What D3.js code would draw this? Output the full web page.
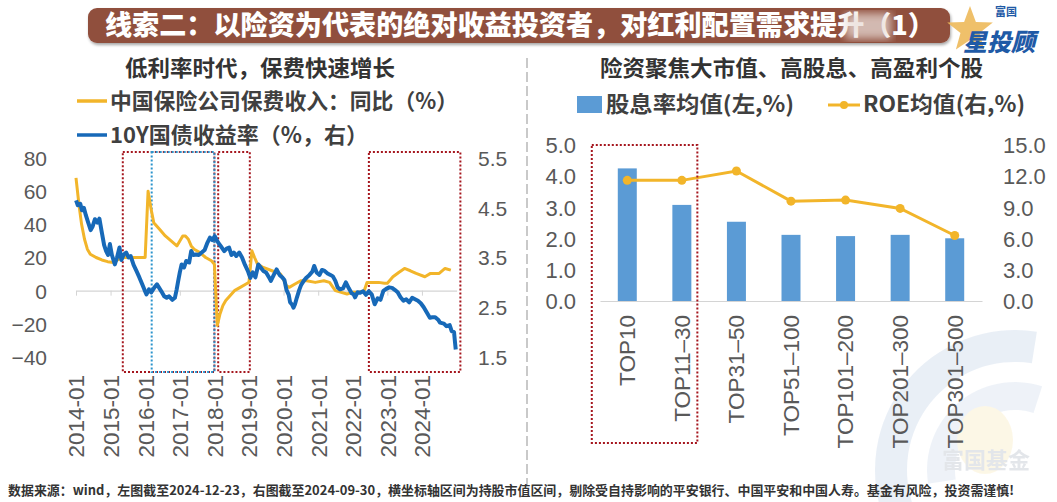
<!DOCTYPE html>
<html><head><meta charset="utf-8">
<script src="https://cdn.jsdelivr.net/npm/d3@7"></script>
<style>
body{margin:0;background:#fff;}
svg{display:block;}
</style></head><body>
<svg id="c" width="1057" height="502"></svg>
<script>
// ---------- Left chart data ----------
const premiumDates = ["2014-01","2014-02","2014-03","2014-04","2014-05","2014-06","2014-08","2014-10","2014-12","2015-02","2015-03","2015-05","2015-08","2015-12","2016-01","2016-02","2016-03","2016-04","2016-06","2016-08","2016-10","2016-12","2017-02","2017-03","2017-04","2017-05","2017-06","2017-08","2017-10","2017-12","2018-01","2018-02","2018-03","2018-04","2018-05","2018-06","2018-08","2018-10","2018-12","2019-01","2019-02","2019-03","2019-04","2019-06","2019-09","2019-12","2020-02","2020-03","2020-05","2020-07","2020-09","2020-12","2021-03","2021-05","2021-07","2021-09","2021-11","2022-01","2022-03","2022-05","2022-06","2022-08","2022-10","2022-12","2023-01","2023-03","2023-05","2023-07","2023-09","2023-11","2024-02","2024-04","2024-07","2024-09","2024-11"];
const premiumYoY = [68,52,40,31,25,22,20,18.5,17.5,17,18,20,20,20,20,60,50,41,37,33,30,27,33,33,31,27,25,23,20,18,16,-21,-14,-9,-6,-4,0,2,4,5,24,20,16,14,12,10,3,2,4,6,6,5,6,5,0,-1,-2,-1,-1,0,5,5,5,4.5,4.5,8.4,11,13.4,12,10.4,8.4,10.4,10.4,13.4,12.4];

const bondDates = ["2014-01-02","2014-01-20","2014-02-15","2014-03-05","2014-03-25","2014-04-15","2014-05-10","2014-06-05","2014-06-25","2014-07-20","2014-08-15","2014-09-05","2014-10-01","2014-10-25","2014-11-15","2014-12-05","2014-12-25","2015-01-15","2015-02-15","2015-03-10","2015-04-05","2015-04-25","2015-05-20","2015-06-15","2015-07-10","2015-08-01","2015-09-01","2015-10-01","2015-11-01","2015-12-01","2015-12-25","2016-01-15","2016-02-10","2016-03-05","2016-04-05","2016-05-05","2016-05-25","2016-06-20","2016-07-20","2016-08-15","2016-09-10","2016-10-15","2016-11-10","2016-11-28","2016-12-15","2017-01-01","2017-01-20","2017-02-15","2017-03-10","2017-04-10","2017-05-01","2017-05-25","2017-06-20","2017-07-20","2017-08-20","2017-09-20","2017-10-20","2017-11-15","2017-12-10","2018-01-05","2018-01-25","2018-02-20","2018-03-20","2018-04-15","2018-05-10","2018-06-05","2018-07-01","2018-07-25","2018-08-20","2018-09-20","2018-10-20","2018-11-20","2018-12-20","2019-01-15","2019-02-10","2019-03-10","2019-04-10","2019-05-05","2019-06-01","2019-07-01","2019-08-01","2019-08-20","2019-09-20","2019-10-20","2019-11-20","2019-12-20","2020-01-10","2020-02-01","2020-02-25","2020-03-10","2020-04-01","2020-04-15","2020-05-01","2020-05-20","2020-06-15","2020-07-05","2020-08-01","2020-09-01","2020-10-01","2020-11-01","2020-11-20","2020-12-15","2021-01-15","2021-02-10","2021-03-10","2021-04-10","2021-05-10","2021-06-05","2021-07-01","2021-07-25","2021-08-20","2021-09-20","2021-10-20","2021-11-20","2021-12-20","2022-01-10","2022-01-25","2022-02-20","2022-03-20","2022-04-20","2022-05-20","2022-06-20","2022-07-20","2022-08-20","2022-09-20","2022-10-20","2022-11-20","2022-12-20","2023-01-20","2023-02-20","2023-03-20","2023-04-20","2023-05-20","2023-06-20","2023-07-20","2023-08-20","2023-09-20","2023-10-20","2023-11-20","2023-12-20","2024-01-20","2024-02-20","2024-03-25","2024-04-20","2024-05-20","2024-06-20","2024-07-10","2024-08-20","2024-09-15","2024-10-20","2024-11-10","2024-12-05","2024-12-15","2024-12-23"];
const bondYield = [4.65,4.55,4.58,4.45,4.50,4.35,4.20,4.05,4.12,4.27,4.20,4.28,4.00,3.75,3.63,3.55,3.77,3.55,3.36,3.50,3.70,3.45,3.56,3.60,3.50,3.53,3.35,3.23,3.10,2.96,2.85,2.76,2.86,2.80,2.89,2.96,2.90,2.82,2.72,2.69,2.72,2.65,2.69,2.85,3.03,3.20,3.36,3.30,3.43,3.40,3.63,3.55,3.56,3.55,3.60,3.65,3.80,3.90,3.85,3.93,3.85,3.77,3.70,3.63,3.68,3.70,3.55,3.60,3.53,3.60,3.50,3.35,3.23,3.09,3.20,3.10,3.36,3.30,3.23,3.20,3.10,3.03,3.15,3.26,3.15,3.10,3.05,2.85,2.75,2.60,2.55,2.49,2.56,2.69,2.85,2.95,3.03,3.10,3.15,3.22,3.33,3.20,3.15,3.25,3.23,3.18,3.15,3.12,3.03,2.90,2.86,2.88,3.00,2.88,2.78,2.76,2.70,2.80,2.79,2.82,2.75,2.82,2.76,2.56,2.68,2.65,2.83,2.87,2.90,2.89,2.85,2.80,2.70,2.63,2.66,2.60,2.69,2.66,2.63,2.58,2.50,2.40,2.29,2.30,2.30,2.25,2.19,2.17,2.12,2.14,2.02,2.00,1.80,1.65];

const yearTicks = ["2014-01","2015-01","2016-01","2017-01","2018-01","2019-01","2020-01","2021-01","2022-01","2023-01","2024-01"];
const leftTicks = [-40,-20,0,20,40,60,80];
const rightTicks = [1.5,2.5,3.5,4.5,5.5];

// ---------- Right chart data ----------
const categories = ["TOP10","TOP11–30","TOP31–50","TOP51–100","TOP101–200","TOP201–300","TOP301–500"];
const dividendYield = [4.25,3.08,2.54,2.12,2.08,2.12,2.01];
const roe = [11.6,11.6,12.5,9.6,9.7,8.9,6.3];
const barLeftTicks = [0,1,2,3,4,5];
const barRightTicks = [0,3,6,9,12,15];

// ---------- Drawing ----------
const svg = d3.select("#c");
const CJK = "'Noto Sans CJK SC', 'Noto Sans', sans-serif";
const NUM = "'Liberation Sans', Arial, sans-serif";
const GRAY = "#595959";
const YEL = "#F2B52A";
const BLUE = "#1769B8";
const BAR = "#5B9BD5";
const RED = "#A5161E";

// watermark
const wm = svg.append("g").attr("opacity", 0.5);
const arc = d3.arc();
wm.append("path").attr("transform","translate(1015,470)")
  .attr("d", arc({innerRadius:108, outerRadius:140, startAngle:-Math.PI*0.62, endAngle:Math.PI*0.05}))
  .attr("fill","#d5e0ee");
wm.append("path").attr("transform","translate(1015,470)")
  .attr("d", arc({innerRadius:60, outerRadius:88, startAngle:-Math.PI*0.55, endAngle:Math.PI*0.1}))
  .attr("fill","#dfe7f2");
wm.append("ellipse").attr("cx",985).attr("cy",440).attr("rx",28).attr("ry",34).attr("fill","#fbf0cf");
wm.append("text").attr("x",986).attr("y",468).attr("text-anchor","middle")
  .attr("font-family",CJK).attr("font-weight",700).attr("font-size",22).attr("fill","#c9ced6").text("富国基金");

// banner
const defs = svg.append("defs");
const f = defs.append("filter").attr("id","sh").attr("x","-5%").attr("y","-30%").attr("width","110%").attr("height","170%");
f.append("feDropShadow").attr("dx",1).attr("dy",2).attr("stdDeviation",1.5).attr("flood-color","#000").attr("flood-opacity",0.35);
const bl = defs.append("filter").attr("id","blur");
bl.append("feGaussianBlur").attr("stdDeviation",4);
svg.append("rect").attr("x",88).attr("y",8).attr("width",862).attr("height",35).attr("rx",9)
  .attr("fill","#904F3D").attr("filter","url(#sh)");
svg.append("text").attr("x",105).attr("y",35).attr("textLength",830).attr("lengthAdjust","spacingAndGlyphs")
  .attr("font-family",CJK).attr("font-weight",900).attr("font-size",27).attr("fill","#fff")
  .text("线索二：以险资为代表的绝对收益投资者，对红利配置需求提升（1）");
svg.append("rect").attr("x",845).attr("y",13).attr("width",46).attr("height",26).attr("fill","#e9ddd8").attr("opacity",0.75).attr("filter","url(#blur)");

// logo
const star = d3.range(10).map(i => {
  const r = i % 2 === 0 ? 24 : 10, a = -Math.PI/2 + i*Math.PI/5;
  return [970 + r*Math.cos(a), 30 + r*Math.sin(a)];
});
svg.append("path").attr("d", d3.line()(star) + "Z").attr("fill","#EDB95A").attr("opacity",0.9);
svg.append("text").attr("x",995).attr("y",16).attr("font-family",CJK).attr("font-weight",700)
  .attr("font-size",11).attr("fill","#1f5aa6").text("富国");
svg.append("text").attr("x",963).attr("y",51).attr("font-family",CJK).attr("font-weight",900)
  .attr("font-size",24).attr("fill","#1f5aa6").attr("font-style","italic").text("星投顾");

// divider
svg.append("line").attr("x1",527).attr("x2",527).attr("y1",58).attr("y2",485)
  .attr("stroke","#c9c9c9").attr("stroke-width",2).attr("stroke-dasharray","10,4");

// ---- left chart ----
const parseM = d3.timeParse("%Y-%m"), parseD = d3.timeParse("%Y-%m-%d");
const xL = d3.scaleTime().domain([parseM("2014-01"), parseM("2025-01")]).range([76, 456.6]);
const yL = d3.scaleLinear().domain([-40, 80]).range([357, 158]);
const yR = d3.scaleLinear().domain([1.5, 5.5]).range([357, 158]);

svg.append("text").attr("x",125).attr("y",76).attr("textLength",270).attr("lengthAdjust","spacingAndGlyphs")
  .attr("font-family",CJK).attr("font-weight",700).attr("font-size",22).attr("fill","#333").text("低利率时代，保费快速增长");

// legend
const legL = [{c:YEL, t:"中国保险公司保费收入：同比（%）", y:101, w:348},{c:BLUE, t:"10Y国债收益率（%，右）", y:135, w:258}];
legL.forEach(d=>{
  svg.append("line").attr("x1",77).attr("x2",107).attr("y1",d.y).attr("y2",d.y).attr("stroke",d.c).attr("stroke-width",3.5);
  svg.append("text").attr("x",110).attr("y",d.y+8).attr("textLength",d.w).attr("lengthAdjust","spacingAndGlyphs")
    .attr("font-family",CJK).attr("font-weight",700).attr("font-size",22).attr("fill","#404040").text(d.t);
});

// axes
const gyl = svg.append("g").attr("transform","translate(47,0)")
  .call(d3.axisLeft(yL).tickValues(leftTicks).tickSize(0).tickPadding(0));
gyl.select(".domain").remove();
gyl.selectAll("text").attr("font-family",NUM).attr("font-size",21).attr("fill",GRAY).attr("dy","0.35em");

const gyr = svg.append("g").attr("transform","translate(478,0)")
  .call(d3.axisRight(yR).tickValues(rightTicks).tickFormat(d3.format(".1f")).tickSize(0).tickPadding(0));
gyr.select(".domain").remove();
gyr.selectAll("text").attr("font-family",NUM).attr("font-size",21).attr("fill",GRAY).attr("dy","0.35em");

const gx = svg.append("g").attr("transform",`translate(0,${yL(0)})`)
  .call(d3.axisBottom(xL).tickValues(yearTicks.map(parseM)).tickFormat(d3.timeFormat("%Y-%m")).tickSize(5).tickSizeOuter(0));
gx.select(".domain").attr("stroke","#d4d4d4").attr("stroke-width",1.2);
gx.selectAll(".tick line").attr("stroke","#d4d4d4");
gx.selectAll("text").attr("font-family",NUM).attr("font-size",22.5).attr("fill",GRAY)
  .attr("text-anchor","end").attr("x",0).attr("y",0).attr("dy","0.35em")
  .attr("transform",`translate(0,${375-yL(0)}) rotate(-90)`);

// highlight boxes
function box(x0, x1, y0, y1, c){
  svg.append("rect").attr("x",x0).attr("y",y0).attr("width",x1-x0).attr("height",y1-y0)
    .attr("fill","none").attr("stroke",c).attr("stroke-width",2).attr("stroke-dasharray","2,2");
}
box(xL(parseD("2015-05-10")), xL(parseD("2018-01-01")), 152, 372, RED);
box(xL(parseD("2016-03-10")), xL(parseD("2018-01-01")), 152, 372, "#2B93CC");
box(xL(parseD("2018-02-10")), xL(parseD("2019-01-10")), 152, 372, RED);
box(xL(parseD("2022-06-20")), xL(parseD("2025-02-10")), 152, 372, RED);

// lines
svg.append("path").datum(premiumDates.map((d,i)=>[parseM(d), premiumYoY[i]]))
  .attr("fill","none").attr("stroke",YEL).attr("stroke-width",3).attr("stroke-linejoin","round")
  .attr("d", d3.line().x(d=>xL(d[0])).y(d=>yL(d[1])));
svg.append("path").datum(bondDates.map((d,i)=>[parseD(d), bondYield[i]]))
  .attr("fill","none").attr("stroke",BLUE).attr("stroke-width",4).attr("stroke-linejoin","round")
  .attr("d", d3.line().x(d=>xL(d[0])).y(d=>yR(d[1])));

// ---- right chart ----
svg.append("text").attr("x",600).attr("y",76).attr("textLength",383).attr("lengthAdjust","spacingAndGlyphs")
  .attr("font-family",CJK).attr("font-weight",700).attr("font-size",22).attr("fill","#333").text("险资聚焦大市值、高股息、高盈利个股");

svg.append("rect").attr("x",577).attr("y",96).attr("width",25).attr("height",17).attr("fill",BAR);
svg.append("text").attr("x",606).attr("y",112).attr("textLength",188).attr("lengthAdjust","spacingAndGlyphs")
  .attr("font-family",CJK).attr("font-weight",700).attr("font-size",22).attr("fill","#404040").text("股息率均值(左,%)");
svg.append("line").attr("x1",828).attr("x2",860).attr("y1",105).attr("y2",105).attr("stroke",YEL).attr("stroke-width",3);
svg.append("circle").attr("cx",844).attr("cy",105).attr("r",4).attr("fill",YEL);
svg.append("text").attr("x",863).attr("y",112).attr("textLength",162).attr("lengthAdjust","spacingAndGlyphs")
  .attr("font-family",CJK).attr("font-weight",700).attr("font-size",22).attr("fill","#404040").text("ROE均值(右,%)");

const xB = d3.scaleBand().domain(categories).range([600, 982]).paddingInner(0.652).paddingOuter(0.326);
const yB = d3.scaleLinear().domain([0,5]).range([301,145]);
const yB2 = d3.scaleLinear().domain([0,15]).range([301,145]);

const gbl = svg.append("g").attr("transform","translate(576,0)")
  .call(d3.axisLeft(yB).tickValues(barLeftTicks).tickFormat(d3.format(".1f")).tickSize(0).tickPadding(0));
gbl.select(".domain").remove();
gbl.selectAll("text").attr("font-family",NUM).attr("font-size",22).attr("fill",GRAY).attr("dy","0.35em");
const gbr = svg.append("g").attr("transform","translate(1003,0)")
  .call(d3.axisRight(yB2).tickValues(barRightTicks).tickFormat(d3.format(".1f")).tickSize(0).tickPadding(0));
gbr.select(".domain").remove();
gbr.selectAll("text").attr("font-family",NUM).attr("font-size",22).attr("fill",GRAY).attr("dy","0.35em");

svg.selectAll(".bar").data(categories).join("rect").attr("class","bar")
  .attr("x",d=>xB(d)).attr("width",xB.bandwidth())
  .attr("y",(d,i)=>yB(dividendYield[i])).attr("height",(d,i)=>yB(0)-yB(dividendYield[i]))
  .attr("fill",BAR);

const gbx = svg.append("g").attr("transform",`translate(0,${yB(0)})`)
  .call(d3.axisBottom(xB).tickSize(0).tickSizeOuter(0));
gbx.select(".domain").attr("stroke","#d4d4d4").attr("stroke-width",1.2);
gbx.selectAll("text").attr("font-family",NUM).attr("font-size",22.5).attr("fill",GRAY)
  .attr("text-anchor","end").attr("x",0).attr("y",0).attr("dy","0.35em")
  .attr("transform",`translate(0,${315-yB(0)}) rotate(-90)`);

const cx = d => xB(d) + xB.bandwidth()/2;
svg.append("path").datum(categories)
  .attr("fill","none").attr("stroke",YEL).attr("stroke-width",3)
  .attr("d", d3.line().x(d=>cx(d)).y((d,i)=>yB2(roe[i])));
svg.selectAll(".pt").data(categories).join("circle").attr("class","pt")
  .attr("cx",d=>cx(d)).attr("cy",(d,i)=>yB2(roe[i])).attr("r",4.5).attr("fill",YEL);

box(xB(categories[0]) - 26, xB(categories[1]) + xB.bandwidth() + 6, 145, 443, RED);

// footnote
svg.append("text").attr("x",8).attr("y",495).attr("textLength",1006).attr("lengthAdjust","spacingAndGlyphs")
  .attr("font-family",CJK).attr("font-weight",700).attr("font-size",13).attr("fill","#333")
  .text("数据来源：wind，左图截至2024-12-23，右图截至2024-09-30，横坐标轴区间为持股市值区间，剔除受自持影响的平安银行、中国平安和中国人寿。基金有风险，投资需谨慎!");
</script>
</body></html>
